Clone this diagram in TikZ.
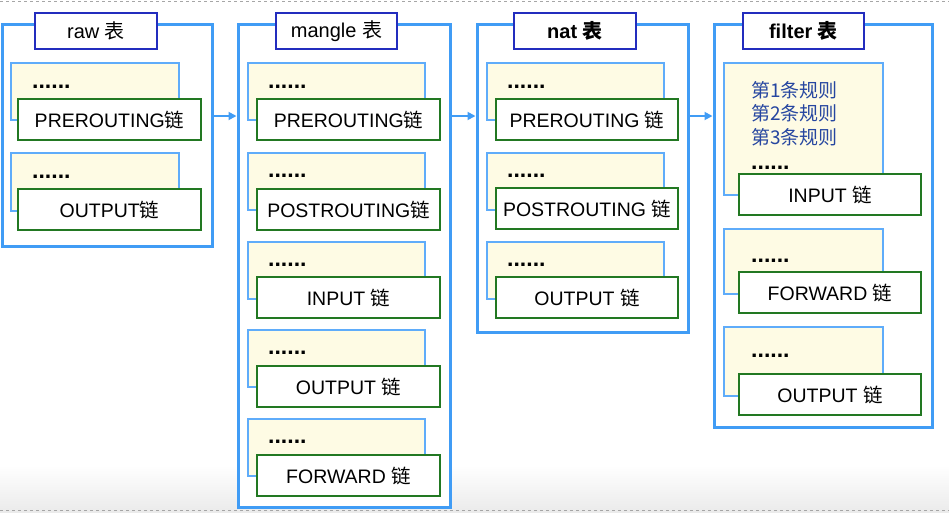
\documentclass[tikz,border=0pt]{standalone}
\usepackage{fontspec}
\setmainfont{Liberation Sans}
\newfontfamily\cjk{Noto Sans CJK SC}
\usetikzlibrary{arrows.meta}
\definecolor{tblblue}{RGB}{64,156,245}
\definecolor{ttlblue}{RGB}{35,45,190}
\definecolor{ruleedge}{RGB}{95,172,250}
\definecolor{cream}{RGB}{254,251,228}
\definecolor{chgreen}{RGB}{34,120,34}
\definecolor{ruletext}{RGB}{38,70,160}
\newcommand\lian{{\cjk 链}}
\newcommand\biao{{\cjk 表}}
\tikzset{
  tblst/.style={draw=tblblue,line width=3pt,fill=white,inner sep=0pt,outer sep=0pt,anchor=north west},
  ttlst/.style={draw=ttlblue,line width=2pt,fill=white,inner sep=0pt,outer sep=0pt,anchor=north west,font=\fontsize{20}{24}\selectfont},
  rulest/.style={draw=ruleedge,line width=1.8pt,fill=cream,inner sep=0pt,outer sep=0pt,anchor=north west},
  chainst/.style={draw=chgreen,line width=1.8pt,fill=white,inner sep=0pt,outer sep=0pt,anchor=north west,font=\fontsize{19.5}{23}\selectfont},
  dotst/.style={inner sep=0pt,anchor=base west,font=\bfseries\fontsize{23}{26}\selectfont},
  arr/.style={draw=tblblue,line width=1.8pt,-{Triangle[length=8pt,width=8pt]}},
}
\newcommand\mkT[6]{\node[tblst,minimum width=#4pt,minimum height=#5pt] (#1) at (#2,#3) {};}
\newcommand\mkTT[6]{\node[ttlst,minimum width=#4pt,minimum height=#5pt] (#1) at (#2,#3) {#6};}
\newcommand\mkR[5]{\node[rulest,minimum width=#4pt,minimum height=#5pt] (#1) at (#2,#3) {};}
\newcommand\mkC[6]{\node[chainst,minimum width=#4pt,minimum height=#5pt] (#1) at (#2,#3) {#6};}
\newcommand\mkD[3]{\node[dotst] (#1) at (#2,#3) {......};}
\begin{document}
\begin{tikzpicture}[x=1pt,y=-1pt]
\useasboundingbox (0,0) rectangle (949,512);
\shade[top color=white,bottom color=black!8] (0,465) rectangle (949,512);
\draw[black!35,dashed,line width=0.8pt] (0,1.5) -- (949,1.5);
\draw[black!35,dashed,line width=0.8pt] (0,510.5) -- (949,510.5);
% raw
\mkT{raw}{2}{24}{210}{222}{}
\mkTT{rawt}{35}{13}{122}{36}{raw \biao}
\mkR{rawr1}{11}{63}{168}{57}
\mkD{rawd1}{32}{88}
\mkC{rawc1}{18}{99}{183}{41}{PREROUTING\lian}
\mkR{rawr2}{11}{153}{168}{58}
\mkD{rawd2}{32}{178}
\mkC{rawc2}{18}{189}{183}{41}{OUTPUT\lian}
% mangle
\mkT{mgl}{238}{24}{212}{483}{}
\mkTT{mglt}{276}{13}{121}{36}{mangle \biao}
\mkR{mglr1}{248}{63}{177}{57}
\mkD{mgld1}{268}{88}
\mkC{mglc1}{257}{99}{183}{41}{PREROUTING\lian}
\mkR{mglr2}{248}{153}{177}{57}
\mkD{mgld2}{268}{177}
\mkC{mglc2}{257}{189}{183}{41}{POSTROUTING\lian}
\mkR{mglr3}{248}{242}{177}{57}
\mkD{mgld3}{268}{266}
\mkC{mglc3}{257}{277}{183}{41}{INPUT \lian}
\mkR{mglr4}{248}{330}{177}{57}
\mkD{mgld4}{268}{354}
\mkC{mglc4}{257}{366}{183}{41}{OUTPUT \lian}
\mkR{mglr5}{248}{419}{177}{57}
\mkD{mgld5}{268}{443}
\mkC{mglc5}{257}{455}{183}{41}{FORWARD \lian}
% nat
\mkT{nat}{477}{24}{211}{308}{}
\mkTT{natt}{514}{13}{122}{36}{\bfseries nat \biao}
\mkR{natr1}{487}{63}{177}{57}
\mkD{natd1}{507}{88}
\mkC{natc1}{496}{99}{182}{41}{PREROUTING \lian}
\mkR{natr2}{487}{153}{177}{57}
\mkD{natd2}{507}{177}
\mkC{natc2}{496}{188}{182}{41}{POSTROUTING \lian}
\mkR{natr3}{487}{242}{177}{57}
\mkD{natd3}{507}{266}
\mkC{natc3}{496}{277}{182}{41}{OUTPUT \lian}
% filter
\mkT{flt}{714}{24}{218}{403}{}
\mkTT{fltt}{743}{13}{121}{36}{\bfseries filter \biao}
\mkR{fltr1}{724}{63}{159}{132}
\node[inner sep=0pt,anchor=north west,align=left,text=ruletext,font=\cjk\fontsize{19}{23.5}\selectfont] (rules) at (751,81) {第1条规则\\第2条规则\\第3条规则};
\mkD{fltd1}{751}{169}
\mkC{fltc1}{739}{174}{182}{41}{INPUT \lian}
\mkR{fltr2}{724}{229}{159}{65}
\mkD{fltd2}{751}{262}
\mkC{fltc2}{739}{272}{182}{41}{FORWARD \lian}
\mkR{fltr3}{724}{327}{159}{69}
\mkD{fltd3}{751}{357}
\mkC{fltc3}{739}{374}{182}{41}{OUTPUT \lian}
% arrows
\draw[arr] ([yshift=-92pt]raw.north east) -- ([yshift=-92pt,xshift=-1.5pt]mgl.north west);
\draw[arr] ([yshift=-92pt]mgl.north east) -- ([yshift=-92pt,xshift=-1.5pt]nat.north west);
\draw[arr] ([yshift=-92pt]nat.north east) -- ([yshift=-92pt,xshift=-1.5pt]flt.north west);
\end{tikzpicture}
\end{document}
